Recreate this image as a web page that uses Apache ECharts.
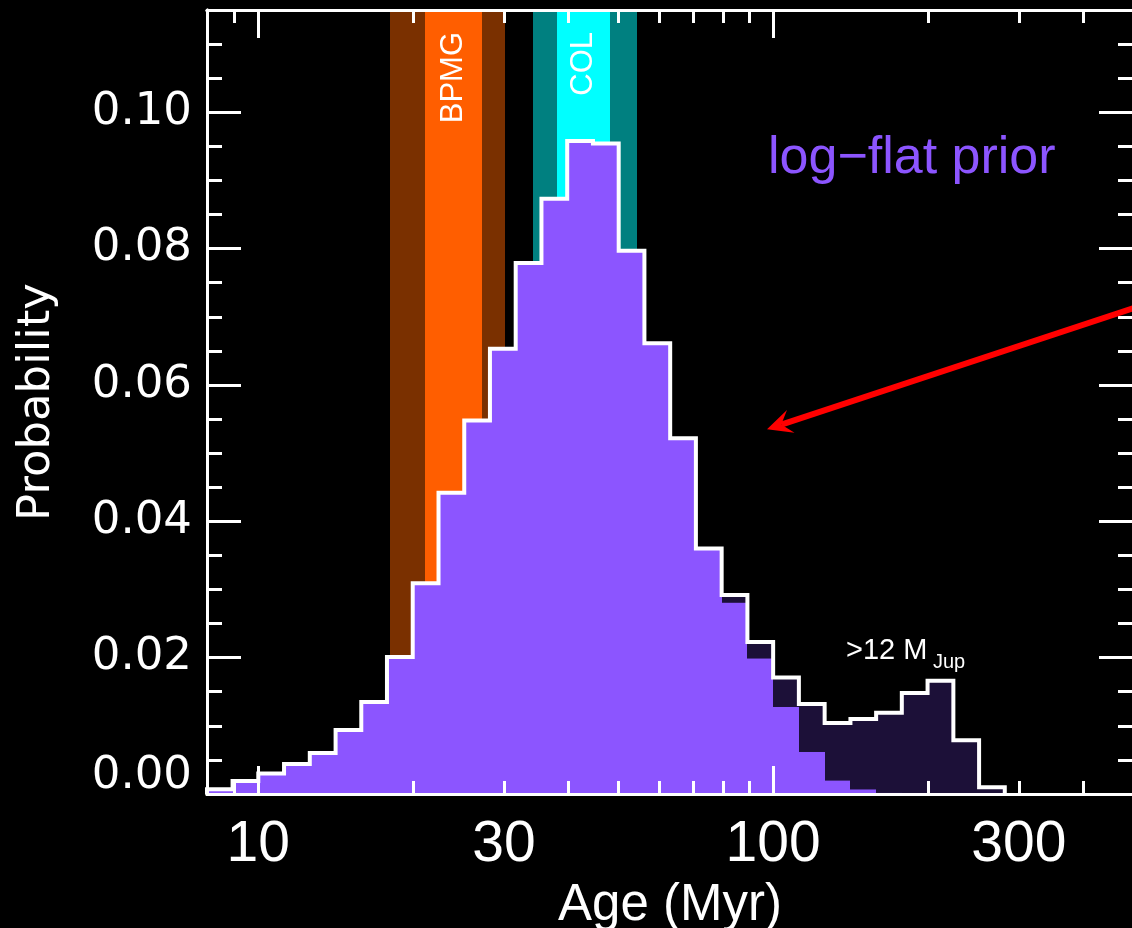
<!DOCTYPE html>
<html>
<head>
<meta charset="utf-8">
<script src="https://cdn.jsdelivr.net/npm/echarts@6/dist/echarts.min.js"></script>
<style>
html,body{margin:0;padding:0;background:#000;}
#c{width:1132px;height:928px;}
</style>
</head>
<body>
<div id="c"></div>
<script>
// ---------------- DATA ----------------
// Histogram bin edges (Myr), 0.05 dex bins
const binEdges = [7.943, 8.913, 10.0, 11.22, 12.59, 14.13, 15.85, 17.78, 19.95, 22.39,
  25.12, 28.18, 31.62, 35.48, 39.81, 44.67, 50.12, 56.23, 63.10, 70.79, 79.43, 89.13,
  100.0, 112.2, 125.9, 141.3, 158.5, 177.8, 199.5, 223.9, 251.2, 281.8];
// Total probability per bin (outline)
const totalProb = [0.0007, 0.0019, 0.0030, 0.0044, 0.0060, 0.0094, 0.0135, 0.0201, 0.0309,
  0.0442, 0.0548, 0.0653, 0.0779, 0.0873, 0.0958, 0.0954, 0.0797, 0.0661, 0.0522, 0.0360,
  0.0292, 0.0223, 0.0171, 0.0132, 0.0104, 0.0110, 0.0119, 0.0148, 0.0166, 0.0079, 0.0010];
// Probability below 12 MJup (purple part); remainder is >12 MJup (dark part)
const lowMassProb = [0.0007, 0.0019, 0.0030, 0.0044, 0.0060, 0.0094, 0.0135, 0.0201, 0.0309,
  0.0442, 0.0548, 0.0653, 0.0779, 0.0873, 0.0958, 0.0954, 0.0797, 0.0661, 0.0522, 0.0360,
  0.0281, 0.0199, 0.0128, 0.0062, 0.0020, 0.0007, 0.0002, 0.0, 0.0, 0.0, 0.0];

// Moving-group age bands (Myr)
const bandNames = ['BPMG', 'COL'];
const bandOuterLo = [18.05, 34.2];
const bandOuterHi = [30.2, 54.4];
const bandInnerLo = [21.1, 38.1];
const bandInnerHi = [27.2, 48.3];

// Axis ticks
const xMajorTicks = [10, 100];
const xMinorTicks = [9, 20, 30, 40, 50, 60, 70, 80, 90, 200, 300, 400];
const xTickLabels = [10, 30, 100, 300];
const yMajorTicks = [0, 0.02, 0.04, 0.06, 0.08, 0.10];
const yMinorTicks = [0.005, 0.01, 0.015, 0.025, 0.03, 0.035, 0.045, 0.05, 0.055, 0.065,
  0.07, 0.075, 0.085, 0.09, 0.095, 0.105, 0.11];

// Arrow annotation (data coords: Myr, probability)
const arrowTail = [675, 0.0745];
const arrowTip = [97.3, 0.0535];

// ---------------- STYLE ----------------
const X_MIN = 7.95, X_MAX = 500, Y_MAX = 0.115;
const PURPLE = '#8C55FF', DARK = '#1C1038';
const bandOuterColors = ['#7A3000', '#008080'];
const bandInnerColors = ['#FF5E00', '#00FFFF'];
const L = Math.log10;

function xAxisDef(pos, ticks, len, labels, name) {
  const ax = {
    type: 'value', position: pos, min: L(X_MIN), max: L(X_MAX), z: 10,
    axisLine: {show: true, onZero: false, lineStyle: {color: '#fff', width: 3}},
    axisTick: {show: true, inside: true, length: len, customValues: ticks.map(L),
      lineStyle: {color: '#fff', width: 3}},
    splitLine: {show: false},
    axisLabel: {show: false}
  };
  if (labels) {
    ax.axisLabel = {show: true, customValues: labels.map(L), color: '#fff',
      fontSize: 57, lineHeight: 57, fontFamily: 'Liberation Sans', margin: 23,
      formatter: v => String(Math.round(Math.pow(10, v)))};
  }
  if (name) {
    ax.name = name; ax.nameLocation = 'middle'; ax.nameGap = 86; ax.nameMoveOverlap = false;
    ax.nameTextStyle = {color: '#fff', fontSize: 51, lineHeight: 51, fontFamily: 'Liberation Sans'};
  }
  return ax;
}
function yAxisDef(pos, ticks, len, labels, name) {
  const ax = {
    type: 'value', position: pos, min: 0, max: Y_MAX, z: 10,
    axisLine: {show: true, onZero: false, lineStyle: {color: '#fff', width: 3}},
    axisTick: {show: true, inside: true, length: len, customValues: ticks,
      lineStyle: {color: '#fff', width: 3}},
    splitLine: {show: false},
    axisLabel: {show: false}
  };
  if (labels) {
    ax.axisLabel = {show: true, customValues: ticks, color: '#fff', fontSize: 45, lineHeight: 45,
      fontFamily: 'DejaVu Sans', margin: 15,
      formatter: v => Math.abs(v) < 1e-9 ? '{z|0.00}' : v.toFixed(2),
      rich: {z: {fontSize: 45, lineHeight: 45, fontFamily: 'DejaVu Sans', color: '#fff', padding: [0, 0, 36, 0]}}};
  }
  if (name) {
    ax.name = name; ax.nameLocation = 'middle'; ax.nameGap = 147; ax.nameRotate = 90; ax.nameMoveOverlap = false;
    ax.nameTextStyle = {color: '#fff', fontSize: 45, lineHeight: 45, fontFamily: 'DejaVu Sans'};
  }
  return ax;
}

// Build series data from arrays
const bandItems = [];
bandNames.forEach((n, i) => bandItems.push({value: [L(bandOuterLo[i]), L(bandOuterHi[i])], color: bandOuterColors[i], label: null}));
bandNames.forEach((n, i) => bandItems.push({value: [L(bandInnerLo[i]), L(bandInnerHi[i])], color: bandInnerColors[i], label: n}));

const histItems = totalProb.map((t, i) => [L(binEdges[i]), L(binEdges[i + 1]), lowMassProb[i], t]);

const outline = [[L(binEdges[0]), 0]];
totalProb.forEach((t, i) => { outline.push([L(binEdges[i]), t]); outline.push([L(binEdges[i + 1]), t]); });
outline.push([L(binEdges[totalProb.length]), 0]);

const chart = echarts.init(document.getElementById('c'), null, {renderer: 'canvas'});
const option = {
  backgroundColor: '#000',
  animation: false,
  grid: {left: 207, top: 10, width: 926, height: 784, containLabel: false, outerBoundsMode: 'none'},
  xAxis: [
    xAxisDef('bottom', xMajorTicks, 28, xTickLabels, 'Age (Myr)'),
    xAxisDef('bottom', xMinorTicks, 13),
    xAxisDef('top', xMajorTicks, 28),
    xAxisDef('top', xMinorTicks, 13)
  ],
  yAxis: [
    yAxisDef('left', yMajorTicks, 34, true, 'Probability'),
    yAxisDef('left', yMinorTicks, 15),
    yAxisDef('right', yMajorTicks, 34),
    yAxisDef('right', yMinorTicks, 15)
  ],
  series: [
    {
      type: 'custom', name: 'bands', z: 1, xAxisIndex: 0, yAxisIndex: 0,
      data: bandItems.map(b => b.value),
      encode: {x: [0, 1]},
      renderItem: (params, api) => {
        const it = bandItems[params.dataIndex];
        const p0 = api.coord([api.value(0), Y_MAX]);
        const p1 = api.coord([api.value(1), 0]);
        const x0 = Math.round(p0[0]), x1 = Math.round(p1[0]);
        const children = [{type: 'rect', shape: {x: x0, y: p0[1], width: x1 - x0, height: p1[1] - p0[1]},
          style: {fill: it.color}}];
        if (it.label) {
          children.push({type: 'text', x: (p0[0] + p1[0]) / 2, y: params.coordSys.y + 22, rotation: Math.PI / 2,
            style: {text: it.label, fill: '#fff', fontSize: 31, fontFamily: 'Liberation Sans',
              align: 'right', verticalAlign: 'middle'}});
        }
        return {type: 'group', children};
      }
    },
    {
      type: 'custom', name: 'histogram', z: 2, xAxisIndex: 0, yAxisIndex: 0,
      data: histItems,
      encode: {x: [0, 1], y: [2, 3]},
      renderItem: (params, api) => {
        const x0 = api.value(0), x1 = api.value(1), lo = api.value(2), tot = api.value(3);
        const pA = api.coord([x0, 0]), pB = api.coord([x1, lo]), pC = api.coord([x1, tot]);
        const xa = Math.round(pA[0]), xb = Math.round(pB[0]);
        return {type: 'group', children: [
          {type: 'rect', shape: {x: xa, y: pB[1], width: xb - xa, height: pA[1] - pB[1]}, style: {fill: PURPLE}},
          {type: 'rect', shape: {x: xa, y: pC[1], width: xb - xa, height: pB[1] - pC[1]}, style: {fill: DARK}}
        ]};
      }
    },
    {
      type: 'line', name: 'outline', z: 3, xAxisIndex: 0, yAxisIndex: 0,
      data: outline, symbol: 'none', silent: true,
      lineStyle: {color: '#fff', width: 4, join: 'miter'}
    }
  ]
};
chart.setOption(option);

// Annotations
const tail = chart.convertToPixel({xAxisIndex: 0, yAxisIndex: 0}, [L(arrowTail[0]), arrowTail[1]]);
const tip = chart.convertToPixel({xAxisIndex: 0, yAxisIndex: 0}, [L(arrowTip[0]), arrowTip[1]]);
const dx = tail[0] - tip[0], dy = tail[1] - tip[1];
const len = Math.sqrt(dx * dx + dy * dy);
const ux = dx / len, uy = dy / len, px = -uy, py = ux;
const headLen = 25, headHalf = 12, notch = 15;
const wing1 = [tip[0] + ux * headLen + px * headHalf, tip[1] + uy * headLen + py * headHalf];
const wing2 = [tip[0] + ux * headLen - px * headHalf, tip[1] + uy * headLen - py * headHalf];
const notchPt = [tip[0] + ux * notch, tip[1] + uy * notch];

chart.setOption({
  graphic: [
    {type: 'line', z: 20, shape: {x1: tail[0], y1: tail[1], x2: notchPt[0], y2: notchPt[1]},
      style: {stroke: '#FF0000', lineWidth: 6}},
    {type: 'polygon', z: 20, shape: {points: [tip, wing1, notchPt, wing2]}, style: {fill: '#FF0000'}},
    {type: 'text', z: 20, x: 768, y: 159,
      style: {text: 'log\u2212flat prior', fill: PURPLE, fontSize: 52, fontFamily: 'Liberation Sans',
        align: 'left', verticalAlign: 'middle'}},
    {type: 'text', z: 20, x: 846, y: 651,
      style: {text: '>12 M', fill: '#fff', fontSize: 29, fontFamily: 'Liberation Sans',
        align: 'left', verticalAlign: 'middle'}},
    {type: 'text', z: 20, x: 933, y: 662,
      style: {text: 'Jup', fill: '#fff', fontSize: 20, fontFamily: 'Liberation Sans',
        align: 'left', verticalAlign: 'middle'}}
  ]
});
</script>
</body>
</html>
